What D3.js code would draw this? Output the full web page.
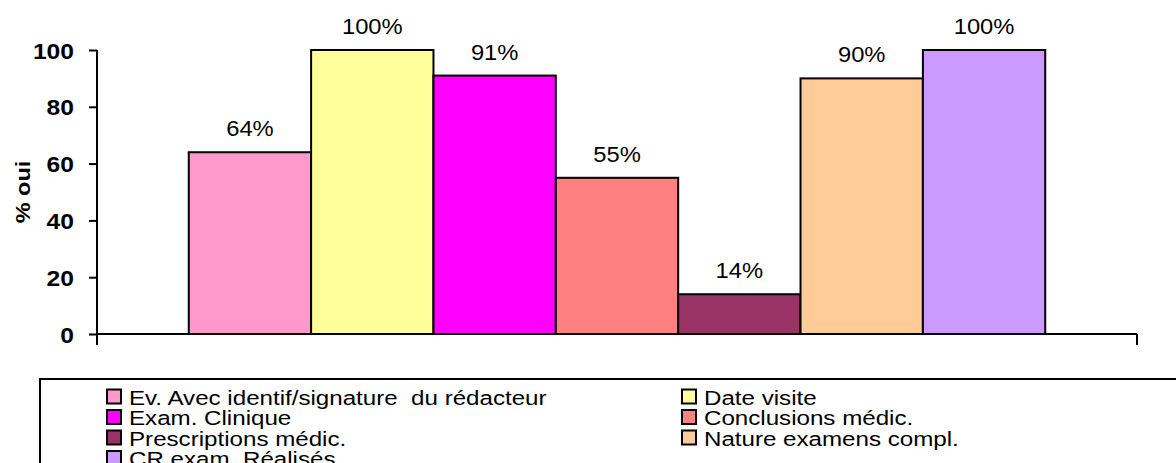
<!DOCTYPE html>
<html>
<head>
<meta charset="utf-8">
<script src="https://cdn.jsdelivr.net/npm/d3@7"></script>
<style>
  html, body { margin: 0; padding: 0; background: #fff; overflow: hidden; }
  svg { display: block; font-family: "Liberation Sans", Arial, sans-serif; }
  svg text { white-space: pre; }
</style>
</head>
<body>
<svg id="chart" width="1176" height="463"></svg>
<script>
// Series shown as side-by-side bars in a single category
const seriesNames = [
  "Ev. Avec identif/signature  du rédacteur",
  "Date visite",
  "Exam. Clinique",
  "Conclusions médic.",
  "Prescriptions médic.",
  "Nature examens compl.",
  "CR exam. Réalisés"
];
const seriesValues = [64, 100, 91, 55, 14, 90, 100];
const seriesColors = ["#FF99CC", "#FFFF99", "#FF00FF", "#FF8080", "#993366", "#FFCC99", "#CC99FF"];
const yTicks = [0, 20, 40, 60, 80, 100];
const yTitle = "% oui";
const category = ["oui"];

const svg = d3.select("#chart");

const plot = { left: 97, right: 1137, top: 50, bottom: 334 };

const y = d3.scaleLinear().domain([0, 100]).range([plot.bottom, plot.top]);

// one category, gap of 150% of a bar width split on both sides
const gapRatio = 0.75 / seriesNames.length;
const x0 = d3.scaleBand().domain(category).range([plot.left, plot.right])
  .paddingInner(0).paddingOuter(gapRatio);
const x1 = d3.scaleBand().domain(seriesNames).range([0, x0.bandwidth()]).padding(0);

const rows = seriesNames.map((name, i) => ({ name, value: seriesValues[i], color: seriesColors[i] }));

// bars
const g = svg.append("g").attr("transform", `translate(${x0(category[0])},0)`);
g.selectAll("rect.bar").data(rows).join("rect")
  .attr("class", "bar")
  .attr("x", d => x1(d.name))
  .attr("y", d => y(d.value))
  .attr("width", x1.bandwidth())
  .attr("height", d => y(0) - y(d.value))
  .attr("fill", d => d.color)
  .attr("stroke", "#000")
  .attr("stroke-width", 2);

// value labels
g.selectAll("text.val").data(rows).join("text")
  .attr("class", "val")
  .attr("transform", d => `translate(${x1(d.name) + x1.bandwidth() / 2},${y(d.value) - 16}) scale(1.08,1)`)
  .attr("text-anchor", "middle")
  .attr("font-size", 22)
  .attr("fill", "#000")
  .text(d => d.value + "%");

// y axis
const yAxis = d3.axisLeft(y).tickValues(yTicks).tickSize(8).tickPadding(0).tickFormat(d3.format("d"));
const ya = svg.append("g").attr("transform", `translate(${plot.left},0)`).call(yAxis);
ya.select(".domain").attr("stroke", "#000").attr("stroke-width", 2)
  .attr("d", `M0,${plot.top}V${plot.bottom + 11}`);
ya.selectAll(".tick line").attr("stroke", "#000").attr("stroke-width", 2);
ya.selectAll(".tick text").remove();
ya.selectAll(".tick").append("text")
  .attr("transform", "translate(-23,8) scale(1.12,1)")
  .attr("text-anchor", "end")
  .attr("font-size", 22)
  .attr("font-weight", "bold")
  .attr("fill", "#000")
  .text(d => d);

// x axis with category boundary ticks
const xa = svg.append("g");
xa.append("line")
  .attr("x1", plot.left).attr("x2", plot.right)
  .attr("y1", y(0)).attr("y2", y(0))
  .attr("stroke", "#000").attr("stroke-width", 2);
xa.selectAll("line.xt").data(x0.range()).join("line")
  .attr("class", "xt")
  .attr("x1", d => d).attr("x2", d => d)
  .attr("y1", y(0)).attr("y2", y(0) + 11)
  .attr("stroke", "#000").attr("stroke-width", 2);

// y title
svg.append("text")
  .attr("transform", `translate(29.5,${(plot.top + plot.bottom) / 2}) rotate(-90) scale(1.12,1)`)
  .attr("text-anchor", "middle")
  .attr("font-size", 21)
  .attr("font-weight", "bold")
  .attr("fill", "#000")
  .text(yTitle);

// legend
const legend = svg.append("g");
legend.append("rect")
  .attr("x", 40).attr("y", 379)
  .attr("width", 1200).attr("height", 200)
  .attr("fill", "#fff").attr("stroke", "#000").attr("stroke-width", 2);

const colX = [107, 682];
const rowY = d3.scaleLinear().domain([0, 1]).range([389.5, 410]);
const items = legend.selectAll("g.item").data(rows).join("g")
  .attr("class", "item")
  .attr("transform", (d, i) => `translate(${colX[i % 2]},${rowY(Math.floor(i / 2))})`);
items.append("rect")
  .attr("x", 0).attr("y", 0).attr("width", 14).attr("height", 14)
  .attr("fill", d => d.color).attr("stroke", "#000").attr("stroke-width", 2);
items.append("text")
  .attr("transform", "translate(22,15) scale(1.15,1)")
  .attr("font-size", 21)
  .attr("fill", "#000")
  .text(d => d.name);
</script>
</body>
</html>
